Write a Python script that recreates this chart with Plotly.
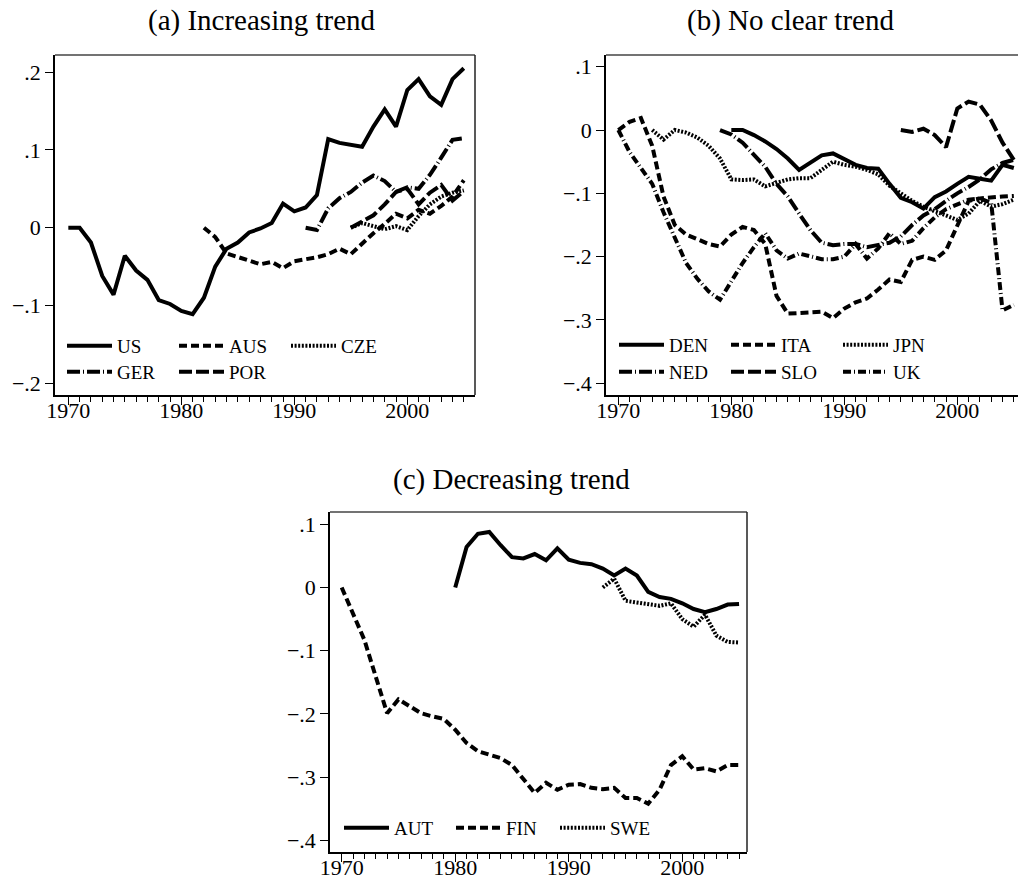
import plotly.graph_objects as go

W, H = 1018, 884

# ---------------- data ----------------
# Panel (a) Increasing trend
US_years = list(range(1970, 2006))
US = [0.000, 0.000, -0.019, -0.062, -0.086, -0.036, -0.055, -0.067, -0.093, -0.098,
      -0.107, -0.111, -0.090, -0.050, -0.027, -0.019, -0.006, -0.001, 0.006, 0.031,
      0.021, 0.026, 0.042, 0.114, 0.109, 0.106, 0.104, 0.130, 0.152, 0.130,
      0.177, 0.191, 0.169, 0.158, 0.191, 0.205]
AUS_years = list(range(1982, 2006))
AUS = [0.000, -0.012, -0.033, -0.038, -0.042, -0.047, -0.044, -0.052, -0.043, -0.041,
       -0.038, -0.034, -0.027, -0.034, -0.020, -0.007, 0.005, 0.018, 0.012, 0.023,
       0.018, 0.028, 0.040, 0.061]
CZE_years = list(range(1995, 2006))
CZE = [0.000, 0.006, 0.002, -0.002, 0.002, -0.003, 0.015, 0.030, 0.040, 0.045, 0.048]
GER_years = list(range(1991, 2006))
GER = [0.000, -0.003, 0.025, 0.038, 0.046, 0.058, 0.067, 0.060, 0.046, 0.052,
       0.050, 0.068, 0.090, 0.113, 0.115]
POR_years = list(range(1995, 2006))
POR = [0.000, 0.008, 0.016, 0.030, 0.046, 0.050, 0.030, 0.045, 0.055, 0.035, 0.047]

# Panel (b) No clear trend
DEN_years = list(range(1980, 2006))
DEN = [0.000, 0.000, -0.008, -0.018, -0.030, -0.045, -0.063, -0.052, -0.040, -0.037,
       -0.046, -0.055, -0.060, -0.061, -0.085, -0.107, -0.114, -0.124, -0.106, -0.097,
       -0.085, -0.074, -0.077, -0.080, -0.055, -0.060]
ITA_years = list(range(1970, 2006))
ITA = [0.000, 0.013, 0.019, -0.025, -0.105, -0.150, -0.165, -0.172, -0.180, -0.184,
       -0.165, -0.153, -0.158, -0.180, -0.262, -0.290, -0.289, -0.288, -0.287, -0.297,
       -0.282, -0.272, -0.266, -0.252, -0.236, -0.240, -0.205, -0.200, -0.205, -0.190,
       -0.150, -0.112, -0.108, -0.106, -0.105, -0.104]
JPN_years = list(range(1973, 2006))
JPN = [0.000, -0.015, 0.000, -0.004, -0.012, -0.025, -0.045, -0.078, -0.079, -0.078,
       -0.089, -0.083, -0.078, -0.076, -0.076, -0.063, -0.050, -0.055, -0.058, -0.063,
       -0.070, -0.088, -0.100, -0.112, -0.121, -0.128, -0.134, -0.142, -0.132, -0.112,
       -0.121, -0.117, -0.110]
NED_years = list(range(1979, 2006))
NED = [0.000, -0.007, -0.020, -0.038, -0.058, -0.085, -0.105, -0.132, -0.158, -0.178,
       -0.182, -0.180, -0.180, -0.185, -0.182, -0.178, -0.168, -0.150, -0.135, -0.125,
       -0.112, -0.100, -0.090, -0.078, -0.062, -0.052, -0.047]
SLO_years = list(range(1995, 2006))
SLO = [0.000, -0.003, 0.002, -0.008, -0.027, 0.034, 0.045, 0.040, 0.015, -0.020, -0.047]
UK_years = list(range(1970, 2006))
UK = [0.000, -0.035, -0.060, -0.085, -0.130, -0.170, -0.210, -0.235, -0.255, -0.268,
      -0.240, -0.210, -0.185, -0.163, -0.190, -0.203, -0.195, -0.200, -0.204, -0.204,
      -0.200, -0.180, -0.203, -0.187, -0.163, -0.180, -0.175, -0.155, -0.138, -0.125,
      -0.118, -0.110, -0.108, -0.115, -0.285, -0.276]

# Panel (c) Decreasing trend
AUT_years = list(range(1980, 2006))
AUT = [0.000, 0.064, 0.085, 0.088, 0.067, 0.048, 0.046, 0.053, 0.043, 0.062,
       0.044, 0.039, 0.037, 0.030, 0.019, 0.030, 0.019, -0.007, -0.015, -0.018,
       -0.025, -0.034, -0.039, -0.034, -0.027, -0.026]
FIN_years = list(range(1970, 2006))
FIN = [0.000, -0.041, -0.083, -0.141, -0.199, -0.177, -0.188, -0.199, -0.204, -0.208,
       -0.225, -0.246, -0.259, -0.265, -0.270, -0.281, -0.302, -0.325, -0.309, -0.320,
       -0.312, -0.311, -0.317, -0.319, -0.317, -0.333, -0.333, -0.342, -0.320, -0.281,
       -0.267, -0.288, -0.286, -0.291, -0.281, -0.281]
SWE_years = list(range(1993, 2006))
SWE = [0.000, 0.014, -0.021, -0.024, -0.027, -0.029, -0.025, -0.050, -0.062, -0.043,
       -0.076, -0.086, -0.087]

titles = ["(a) Increasing trend", "(b) No clear trend", "(c) Decreasing trend"]
xtick_vals = [1970, 1980, 1990, 2000]
xtick_text = ["1970", "1980", "1990", "2000"]
minor_years = list(range(1970, 2006))
ytick_vals_a = [0.2, 0.1, 0.0, -0.1, -0.2]
ytick_text_a = [".2", ".1", "0", "\u2212.1", "\u2212.2"]
ytick_vals_bc = [0.1, 0.0, -0.1, -0.2, -0.3, -0.4]
ytick_text_bc = [".1", "0", "\u2212.1", "\u2212.2", "\u2212.3", "\u2212.4"]

# ---------------- styles ----------------
FONT = "Liberation Serif"
LW = 4
SOLID = "solid"
SHORTDASH = "8px,4px"
DOT = "2px,1.6px"
LONGDASHDOT = "13px,3px,1px,3px"
LONGDASH = "13px,4px"
DASHDOT = "8px,3px,1px,3px"


def px_x(p):
    return p / W


def px_y(p):
    return 1 - p / H


fig = go.Figure()


def add(name, xs, ys, dash, xa, ya, leg, lwidth=None):
    fig.add_trace(go.Scatter(
        x=xs, y=ys, name=name, mode="lines",
        line=dict(color="black", width=LW, dash=dash),
        xaxis=xa, yaxis=ya, legend=leg,
        legendwidth=lwidth, hoverinfo="skip",
    ))


add("US", US_years, US, SOLID, "x", "y", "legend")
add("AUS", AUS_years, AUS, SHORTDASH, "x", "y", "legend")
add("CZE", CZE_years, CZE, DOT, "x", "y", "legend")
add("GER", GER_years, GER, LONGDASHDOT, "x", "y", "legend2")
add("POR", POR_years, POR, LONGDASH, "x", "y", "legend2")

add("DEN", DEN_years, DEN, SOLID, "x2", "y2", "legend3")
add("ITA", ITA_years, ITA, SHORTDASH, "x2", "y2", "legend3")
add("JPN", JPN_years, JPN, DOT, "x2", "y2", "legend3")
add("NED", NED_years, NED, LONGDASHDOT, "x2", "y2", "legend4")
add("SLO", SLO_years, SLO, LONGDASH, "x2", "y2", "legend4")
add("UK", UK_years, UK, DASHDOT, "x2", "y2", "legend4")

add("AUT", AUT_years, AUT, SOLID, "x3", "y3", "legend5")
add("FIN", FIN_years, FIN, SHORTDASH, "x3", "y3", "legend5", 44)
add("SWE", SWE_years, SWE, DOT, "x3", "y3", "legend5")

tickfont = dict(family=FONT, size=22, color="black")


def xaxis(dom, rng, anchor):
    return dict(
        domain=dom, range=rng, anchor=anchor, automargin=False,
        tickmode="array", tickvals=xtick_vals, ticktext=xtick_text,
        ticks="outside", ticklen=8, tickwidth=1.3, tickcolor="black",
        ticklabelstandoff=-13,
        minor=dict(tickmode="array", tickvals=minor_years, ticks="outside",
                   ticklen=5, tickwidth=1.1, tickcolor="black", showgrid=False),
        showline=True, linecolor="black", linewidth=1.5,
        showgrid=False, zeroline=False, tickfont=tickfont, fixedrange=True,
    )


def yaxis(dom, rng, anchor, vals, text):
    return dict(
        domain=dom, range=rng, anchor=anchor, automargin=False,
        tickmode="array", tickvals=vals, ticktext=text,
        ticks="outside", ticklen=8, tickwidth=1.3, tickcolor="black",
        showline=True, linecolor="black", linewidth=1.5,
        showgrid=False, zeroline=False, tickfont=tickfont, fixedrange=True,
    )


# pixel frames (page coordinates)
A = dict(l=55, r=475, t=55, b=395)
B = dict(l=606, r=W, t=55, b=395)
C = dict(l=330, r=747, t=512, b=852)

fig.update_layout(
    template="none",
    xaxis=xaxis([px_x(A["l"]), px_x(A["r"])], [1968.82, 2005.99], "y"),
    yaxis=yaxis([px_y(A["b"]), px_y(A["t"])], [-0.215, 0.222], "x", ytick_vals_a, ytick_text_a),
    xaxis2=xaxis([px_x(B["l"]), 1.0], [1968.91, 2005.37], "y2"),
    yaxis2=yaxis([px_y(B["b"]), px_y(B["t"])], [-0.4185, 0.1185], "x2", ytick_vals_bc, ytick_text_bc),
    xaxis3=xaxis([px_x(C["l"]), px_x(C["r"])], [1968.97, 2005.7], "y3"),
    yaxis3=yaxis([px_y(C["b"]), px_y(C["t"])], [-0.4185, 0.1195], "x3", ytick_vals_bc, ytick_text_bc),
)

# top / right frame lines
shapes = []
for fr, right in ((A, True), (B, False), (C, True)):
    shapes.append(dict(type="line", xref="paper", yref="paper",
                       x0=px_x(fr["l"]), x1=px_x(fr["r"]), y0=px_y(fr["t"]), y1=px_y(fr["t"]),
                       line=dict(color="#444", width=1.5)))
    if right:
        shapes.append(dict(type="line", xref="paper", yref="paper",
                           x0=px_x(fr["r"]), x1=px_x(fr["r"]), y0=px_y(fr["t"]), y1=px_y(fr["b"]),
                           line=dict(color="#222", width=1.5)))

annotations = []
for t, cx, cy in ((titles[0], 262, 20), (titles[1], 790, 20), (titles[2], 511, 480)):
    annotations.append(dict(text=t, xref="paper", yref="paper", x=px_x(cx), y=px_y(cy),
                            xanchor="center", yanchor="middle", showarrow=False,
                            font=dict(family=FONT, size=29, color="black")))

legfont = dict(family=FONT, size=19, color="black")


def leg(xp, yp):
    return dict(orientation="h", x=px_x(xp), y=px_y(yp), xanchor="left", yanchor="middle",
                font=legfont, bgcolor="rgba(0,0,0,0)", borderwidth=0,
                entrywidth=52, itemwidth=45, itemclick=False, itemdoubleclick=False,
                tracegroupgap=0)


fig.update_layout(
    width=W, height=H,
    margin=dict(l=0, r=0, t=0, b=0, autoexpand=False),
    paper_bgcolor="white", plot_bgcolor="white",
    showlegend=True,
    legend=leg(62, 346),
    legend2=leg(62, 372),
    legend3=leg(614, 345),
    legend4=leg(614, 372),
    legend5=leg(339, 828),
    shapes=shapes,
    annotations=annotations,
)

# remove the browser's default page margin so the figure fills the window exactly
fig.write_html("out.html", config={"displayModeBar": False},
               post_script="document.body.style.margin='0px';")
